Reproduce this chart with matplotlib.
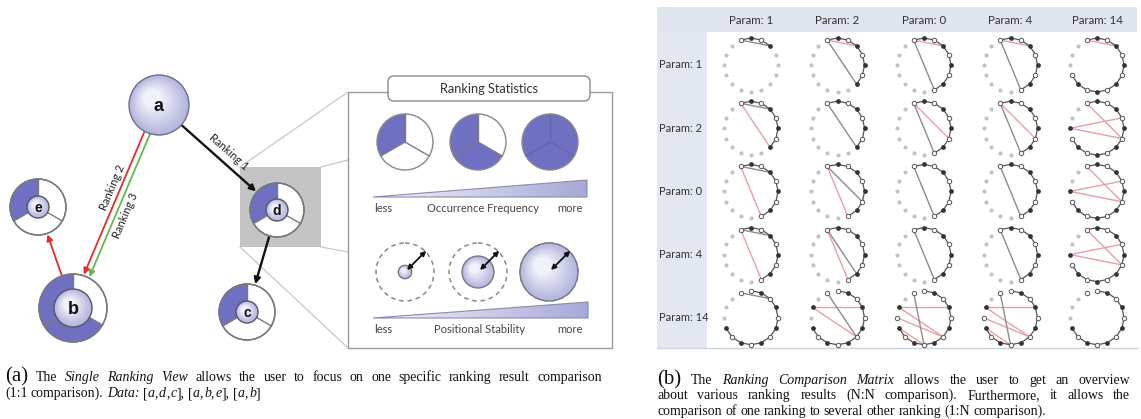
import numpy as np
import matplotlib.pyplot as plt
from matplotlib.patches import Circle, Wedge, Rectangle, Polygon, FancyArrowPatch, FancyBboxPatch
from matplotlib.colors import to_rgb


# -------------- 1) DATA --------------

# single ranking view
occurrence = {'a': None, 'b': 2 / 3, 'c': 1 / 3, 'd': 1 / 3, 'e': 1 / 3}
rankings = [['a', 'd', 'c'], ['a', 'b', 'e'], ['a', 'b']]
ranking_names = ['Ranking 1', 'Ranking 2', 'Ranking 3']
ranking_colors = ['#111111', '#e52b2b', '#66b84c']

# ranking statistics legend
freq_levels = [1 / 3, 2 / 3, 1.0]
stability_levels = [0.23, 0.55, 1.0]
freq_labels = ['less', 'Occurrence Frequency', 'more']
stab_labels = ['less', 'Positional Stability', 'more']

# ranking comparison matrix
params = ['Param: 1', 'Param: 2', 'Param: 0', 'Param: 4', 'Param: 14']
# each cell: (arc start slot, arc end slot, extra nodes, gray chords, red chords)
cells = [
    [(0, 3, [], [(0, 3)], []),
     (0, 7, [], [(0, 7)], [(0, 3)]),
     (0, 8, [], [(0, 8)], [(0, 3)]),
     (0, 8, [], [(0, 8)], [(0, 3)]),
     (0, 12, [], [], [(0, 3)])],
    [(0, 7, [], [(0, 3)], [(0, 7)]),
     (0, 7, [], [(0, 7)], []),
     (0, 8, [], [(0, 8)], [(0, 6)]),
     (0, 8, [], [(0, 8)], [(0, 6)]),
     (0, 12, [13], [], [(0, 6), (13, 4), (13, 6)])],
    [(0, 8, [], [(0, 3)], [(0, 8)]),
     (0, 8, [], [(0, 6)], [(0, 8)]),
     (0, 8, [], [(0, 8)], []),
     (0, 8, [], [(0, 8)], []),
     (0, 12, [13], [], [(0, 6), (13, 4), (13, 6)])],
    [(0, 8, [], [(0, 3)], [(0, 8)]),
     (0, 8, [], [(0, 7)], [(0, 8)]),
     (0, 8, [], [(0, 8)], []),
     (0, 8, [], [(0, 8)], []),
     (0, 12, [13], [], [(0, 6), (13, 4), (13, 6)])],
    [(1, 12, [0], [(0, 3)], []),
     (1, 12, [0, 14], [(0, 7)], [(14, 4), (14, 7)]),
     (1, 12, [0, 14, 13], [(0, 9)], [(14, 4), (14, 7), (13, 7), (12, 9)]),
     (1, 12, [0, 14, 13], [(0, 9)], [(14, 4), (14, 7), (13, 7), (12, 9)]),
     (1, 12, [0], [], [])],
]

# captions (text, style, size)
FS = 10
caption_a = [
    [('(a) ', 'normal', 15), ('The ', 'normal', FS), ('Single Ranking View', 'italic', FS),
     (' allows the user to focus on one specific ranking result comparison', 'normal', FS)],
    [('(1:1 comparison). ', 'normal', FS), ('Data:', 'italic', FS), (' [', 'normal', FS),
     ('a', 'italic', FS), (',', 'normal', FS), ('d', 'italic', FS), (',', 'normal', FS),
     ('c', 'italic', FS), ('], [', 'normal', FS), ('a', 'italic', FS), (',', 'normal', FS),
     ('b', 'italic', FS), (',', 'normal', FS), ('e', 'italic', FS), ('], [', 'normal', FS),
     ('a', 'italic', FS), (',', 'normal', FS), ('b', 'italic', FS), (']', 'normal', FS)],
]
caption_b = [
    [('(b) ', 'normal', 15), ('The ', 'normal', FS), ('Ranking Comparison Matrix', 'italic', FS),
     (' allows the user to get an overview', 'normal', FS)],
    [('about various ranking results (N:N comparison). Furthermore, it allows the', 'normal', FS)],
    [('comparison of one ranking to several other ranking (1:N comparison).', 'normal', FS)],
]


# -------------- 2) LAYOUT --------------
SANS = ['Lato', 'DejaVu Sans']
SERIF = ['Liberation Serif', 'DejaVu Serif']
BLUE = '#7070c2'

pos = {'a': (159, 105), 'b': (73, 308), 'c': (247, 312), 'd': (277, 210), 'e': (38, 207)}
rad = {'a': 30, 'b': 34, 'c': 28, 'd': 27, 'e': 28}
inner = {'a': 30, 'b': 19, 'c': 11, 'd': 11, 'e': 11}
letter_size = {'a': 13, 'b': 13, 'c': 10, 'd': 10, 'e': 10}

fig = plt.figure(figsize=(11.41, 4.19), dpi=100)
ax = fig.add_axes([0, 0, 1, 1])
ax.set_xlim(0, 1141)
ax.set_ylim(419, 0)
ax.axis('off')
renderer = fig.canvas.get_renderer()


def mix(c1, c2, f):
    a, b = np.array(to_rgb(c1)), np.array(to_rgb(c2))
    return tuple(a + (b - a) * f)


def lavender_disc(cx, cy, r, z, edge='#6e6e8e'):
    # fake radial gradient with stacked circles
    n = 14
    for i in range(n):
        f = i / (n - 1)
        shift = 0.22 * r * f
        ax.add_patch(Circle((cx - shift, cy - shift), r * (1 - 0.7 * f),
                            fc=mix('#b3b5dd', '#f0f1fa', f), ec='none', zorder=z))
    ax.add_patch(Circle((cx, cy), r, fc='none', ec=edge, lw=1.0, zorder=z + 0.1))


def screen_wedge(cx, cy, r, phi1, phi2, **kw):
    # y axis is flipped, so screen angles are negated
    return Wedge((cx, cy), r, -phi2, -phi1, **kw)


def spokes(cx, cy, r, z, color='#7a7a7a'):
    for phi in (90, 210, 330):
        t = np.radians(phi)
        ax.plot([cx, cx + r * np.cos(t)], [cy, cy - r * np.sin(t)], color=color, lw=1.0, zorder=z)


def gradient_triangle(x0, x1, ybot, ytop):
    tri = Polygon([(x0, ybot), (x1, ybot), (x1, ytop)], closed=True, fc='none',
                  ec='#8a8ab0', lw=0.8, zorder=3)
    ax.add_patch(tri)
    grad = np.linspace(0, 1, 256).reshape(1, -1)
    cmap = plt.matplotlib.colors.LinearSegmentedColormap.from_list('lav', ['#f4f4fb', '#a7a8d6'])
    im = ax.imshow(grad, extent=(x0, x1, ybot, ytop), cmap=cmap, aspect='auto', zorder=2)
    im.set_clip_path(tri)


# -------------- 3) SINGLE RANKING VIEW --------------

# zoom square and projection lines
ax.add_patch(Rectangle((240, 167), 81, 80, fc='#c4c4c4', ec='none', zorder=1))
for (x0, y0), (x1, y1) in [((240, 167), (348, 92)), ((321, 167), (348, 160)),
                           ((321, 247), (348, 252)), ((240, 247), (348, 348)),
                           ((348, 160), (380, 151)), ((348, 252), (362, 258))]:
    ax.plot([x0, x1], [y0, y1], color='#c8c8c8', lw=0.9, zorder=1)

# edges of the rankings
for k, ranking in enumerate(rankings):
    for s, t in zip(ranking[:-1], ranking[1:]):
        (x0, y0), (x1, y1) = pos[s], pos[t]
        d = np.array([x1 - x0, y1 - y0], float)
        u = d / np.hypot(*d)
        nrm = np.array([-u[1], u[0]])
        off = 0
        if (s, t) == ('a', 'b'):
            off = 3 if k == 1 else -3
        p0 = np.array([x0, y0]) + u * (rad[s] - 4) + nrm * off
        p1 = np.array([x1, y1]) - u * (rad[t] + 1) + nrm * off
        lw = 1.7 if ranking_colors[k] == '#111111' else 1.3
        ax.add_patch(FancyArrowPatch(p0, p1, arrowstyle='-|>', mutation_scale=9, lw=lw,
                                     color=ranking_colors[k], shrinkA=0, shrinkB=0, zorder=4))

# ranking labels along their first edge
for k, (name, frac, side) in enumerate(zip(ranking_names, [0.53, 0.43, 0.52], [-11, 11, -12])):
    s, t = rankings[k][0], rankings[k][1]
    (x0, y0), (x1, y1) = pos[s], pos[t]
    u = np.array([x1 - x0, y1 - y0], float)
    u /= np.hypot(*u)
    nrm = np.array([-u[1], u[0]])
    p = np.array([x0, y0]) + (np.array([x1, y1]) - np.array([x0, y0])) * frac + nrm * side
    ang = np.degrees(np.arctan2(-u[1], u[0]))
    if ang < -90:
        ang += 180
    ax.text(p[0], p[1], name, rotation=ang, rotation_mode='anchor', ha='center', va='center',
            fontsize=8, family=SANS, color='#222222', zorder=5)

# nodes
for n, (cx, cy) in pos.items():
    r = rad[n]
    if occurrence[n] is None:
        lavender_disc(cx, cy, r, 6)
    else:
        ax.add_patch(Circle((cx, cy), r, fc='white', ec='#777777', lw=1.0, zorder=6))
        ax.add_patch(screen_wedge(cx, cy, r, 90, 90 + 360 * occurrence[n], fc=BLUE, ec='none', zorder=6.1))
        spokes(cx, cy, r, 6.2)
        ax.add_patch(Circle((cx, cy), r, fc='none', ec='#777777', lw=1.0, zorder=6.3))
        lavender_disc(cx, cy, inner[n], 6.5, edge='#555566')
    ax.text(cx, cy + 1, n, ha='center', va='center', fontsize=letter_size[n], fontweight='bold',
            family=['Liberation Sans', 'DejaVu Sans'], color='#111111', zorder=7)

# -------------- 4) RANKING STATISTICS PANEL --------------
ax.add_patch(Rectangle((348, 92), 264, 256, fc='white', ec='#9a9a9a', lw=1.0, zorder=1.5))
ax.add_patch(FancyBboxPatch((388, 76), 202, 25, boxstyle='round,pad=0,rounding_size=6',
                            fc='white', ec='#8a8a8a', lw=1.0, zorder=3))
ax.text(489, 89, 'Ranking Statistics', ha='center', va='center', fontsize=9.2, family=SANS,
        color='#333333', zorder=4)

pie_x = [405, 478, 550]
for cx, f in zip(pie_x, freq_levels):
    cy, r = 142, 28
    ax.add_patch(Circle((cx, cy), r, fc='white', ec='none', zorder=3))
    ax.add_patch(screen_wedge(cx, cy, r, 90, 90 + 360 * f, fc=BLUE, ec='none', zorder=3.1))
    spokes(cx, cy, r, 3.2, color='#7a7a8a' if f < 1 else '#6363b0')
    ax.add_patch(Circle((cx, cy), r, fc='none', ec='#888888', lw=1.0, zorder=3.3))

gradient_triangle(373, 587, 197, 180)
for x, lab in zip([383, 483, 570], freq_labels):
    ax.text(x, 208, lab, ha='center', va='center', fontsize=8, family=SANS, color='#444444', zorder=4)

stab_x = [405, 478, 549]
for cx, s in zip(stab_x, stability_levels):
    cy, r = 272, 29
    ax.add_patch(Circle((cx, cy), r, fc='none', ec='#888888', lw=1.1, ls=(0, (3, 2.5)), zorder=3))
    lavender_disc(cx, cy, r * s, 3.1, edge='#777788')
    t = np.radians(45)
    ax.add_patch(FancyArrowPatch((cx + 2, cy - 2), (cx + (r + 1) * np.cos(t), cy - (r + 1) * np.sin(t)),
                                 arrowstyle='<|-|>', mutation_scale=7, lw=1.3, color='#111111',
                                 shrinkA=0, shrinkB=0, zorder=4))

gradient_triangle(373, 588, 318, 302)
for x, lab in zip([383, 480, 570], stab_labels):
    ax.text(x, 329, lab, ha='center', va='center', fontsize=8, family=SANS, color='#444444', zorder=4)

# -------------- 5) RANKING COMPARISON MATRIX --------------
ax.add_patch(Rectangle((657, 7), 480, 25, fc='#dfe4ee', ec='none', zorder=1))
ax.add_patch(Rectangle((657, 32), 50, 316, fc='#e3e7f0', ec='none', zorder=1))
ax.plot([657, 1137], [348, 348], color='#cdd3dd', lw=1.0, zorder=1)

col_x = 751 + 86.5 * np.arange(len(params))
row_y = 65 + 63.2 * np.arange(len(params))
R = 27
slot_ang = np.radians(112.5 - 22.5 * np.arange(16))

for j, p in enumerate(params):
    ax.text(col_x[j], 21, p, ha='center', va='center', fontsize=8.3, family=SANS, color='#333333', zorder=2)
for i, p in enumerate(params):
    ax.text(659, row_y[i], p, ha='left', va='center', fontsize=8, family=SANS, color='#333333', zorder=2)

for i in range(len(params)):
    for j in range(len(params)):
        start, end, extra, gray, red = cells[i][j]
        cx, cy = col_x[j], row_y[i]
        px = cx + R * np.cos(slot_ang)
        py = cy - R * np.sin(slot_ang)
        active = list(range(start, end + 1)) + list(extra)
        idle = [k for k in range(16) if k not in active]
        ax.plot(px[idle], py[idle], 'o', ms=2.0, color='#c2c2c2', zorder=2)
        for a, b in gray:
            ax.plot([px[a], px[b]], [py[a], py[b]], color='#8c8c8c', lw=1.0, zorder=2.2)
        for a, b in red:
            ax.plot([px[a], px[b]], [py[a], py[b]], color='#eb9ea4', lw=1.0, zorder=2.1)
        arc = list(range(start, end + 1))
        ax.plot(px[arc], py[arc], color='#555555', lw=0.9, zorder=2.3)
        for n, k in enumerate(active):
            if n % 2 == 0:
                ax.plot(px[k], py[k], 'o', ms=3.2, mfc='white', mec='#555555', mew=0.7, zorder=2.5)
            else:
                ax.plot(px[k], py[k], 'o', ms=2.4, color='#333333', zorder=2.5)


# -------------- 6) CAPTIONS --------------
def split_words(runs):
    words, new_word = [], True
    for text, style, size in runs:
        for n, part in enumerate(text.split(' ')):
            if n > 0:
                new_word = True
            if part:
                if new_word:
                    words.append([])
                words[-1].append((part, style, size))
                new_word = False
    return words


def put_line(x0, y, runs, width=None):
    words = split_words(runs)
    placed, widths = [], []
    for word in words:
        pieces, w = [], 0
        for txt, sty, sz in word:
            t = ax.text(0, y, txt, fontsize=sz, style=sty, family=SERIF, va='baseline', ha='left',
                        color='#111111', zorder=5)
            pieces.append((t, w))
            w += t.get_window_extent(renderer).width + (1.0 if txt == ',' else 0)
        placed.append(pieces)
        widths.append(w)
    gap = FS * 100 / 72 * 0.25
    if width is not None and len(words) > 1:
        gap = (width - sum(widths)) / (len(words) - 1)
    x = x0
    for pieces, w in zip(placed, widths):
        for t, off in pieces:
            t.set_x(x + off)
        x += w + gap


for n, runs in enumerate(caption_a):
    put_line(5, 381 + 16 * n, runs, width=597 if n == 0 else None)
for n, runs in enumerate(caption_b):
    put_line(657, 384 + 15.3 * n, runs, width=473 if n < 2 else None)

plt.savefig('out.png', dpi=100)
